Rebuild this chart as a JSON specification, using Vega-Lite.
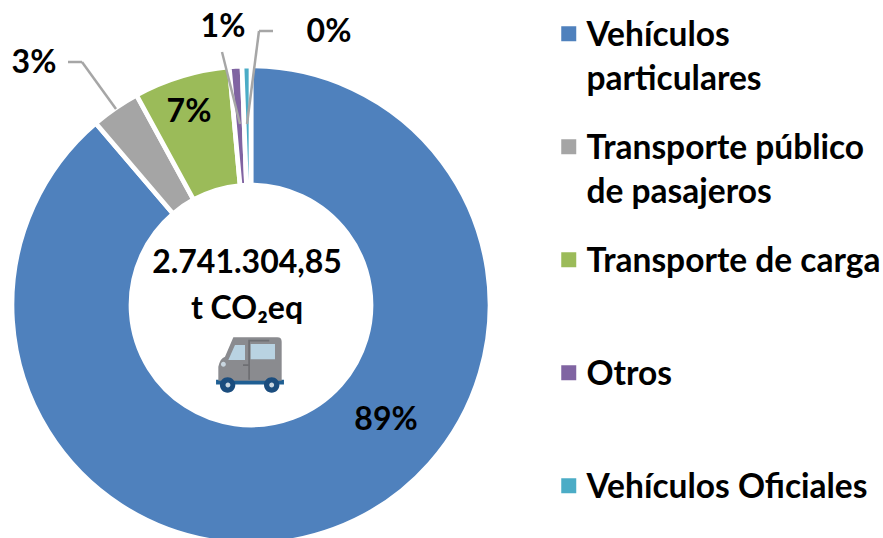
{
"$schema":"https://vega.github.io/schema/vega-lite/v6.json",
"width":883,"height":538,"padding":0,"autosize":{"type":"none"},
"background":"white",
"config":{"view":{"stroke":null},"axis":{"disable":true},"text":{"font":"Lato","fontWeight":"bold","fontSize":32,"color":"#000000"}},
"data":{"values":[
{"fuente":"Vehículos particulares","orden":1,"porcentaje":88.75},
{"fuente":"Transporte público de pasajeros","orden":2,"porcentaje":3.3},
{"fuente":"Transporte de carga","orden":3,"porcentaje":6.5},
{"fuente":"Otros","orden":4,"porcentaje":0.85},
{"fuente":"Vehículos Oficiales","orden":5,"porcentaje":0.6}
]},
"layer":[
{"mark":{"type":"arc","outerRadius":239,"innerRadius":120,"stroke":"white","strokeWidth":4.7},
"encoding":{
"x":{"datum":251,"scale":{"domain":[0,883]}},
"y":{"datum":305,"scale":{"domain":[0,538],"reverse":true}},
"theta":{"field":"porcentaje","type":"quantitative","stack":true},
"order":{"field":"orden","type":"ordinal"},
"color":{"field":"fuente","type":"nominal","sort":{"field":"orden"},
"scale":{"domain":["Vehículos particulares","Transporte público de pasajeros","Transporte de carga","Otros","Vehículos Oficiales"],"range":["#4f81bd","#a5a5a5","#9bbb59","#8064a2","#4bacc6"]},
"legend":{"orient":"none","legendX":552,"legendY":17,"title":null,"symbolType":"square","symbolSize":225,"symbolStrokeWidth":0,"symbolOpacity":1,
"labelFont":"Lato","labelFontWeight":"bold","labelFontSize":33.5,"labelColor":"#000000","labelLimit":400,"labelBaseline":"alphabetic","labelOffset":1,
"gridAlign":"all","rowPadding":33,
"labelExpr":"datum.label=='Vehículos particulares'?['Vehículos','particulares']:datum.label=='Transporte público de pasajeros'?['Transporte público','de pasajeros']:datum.label",
"encoding":{"labels":{"lineHeight":{"value":44},"dy":{"value":12}}}}}
}},
{"mark":{"type":"rule","color":"#a6a6a6","strokeWidth":2.5},"encoding":{"x":{"datum":68,"scale":{"domain":[0,883]}},"x2":{"datum":82},"y":{"datum":62,"scale":{"domain":[0,538],"reverse":true}},"y2":{"datum":62}},"data":{"values":[{}]}},
{"mark":{"type":"rule","color":"#a6a6a6","strokeWidth":2.5},"encoding":{"x":{"datum":82,"scale":{"domain":[0,883]}},"x2":{"datum":116},"y":{"datum":62,"scale":{"domain":[0,538],"reverse":true}},"y2":{"datum":109}},"data":{"values":[{}]}},
{"mark":{"type":"rule","color":"#a6a6a6","strokeWidth":2.5},"encoding":{"x":{"datum":222,"scale":{"domain":[0,883]}},"x2":{"datum":240},"y":{"datum":52,"scale":{"domain":[0,538],"reverse":true}},"y2":{"datum":124}},"data":{"values":[{}]}},
{"mark":{"type":"rule","color":"#a6a6a6","strokeWidth":2.5},"encoding":{"x":{"datum":273,"scale":{"domain":[0,883]}},"x2":{"datum":259},"y":{"datum":31,"scale":{"domain":[0,538],"reverse":true}},"y2":{"datum":31}},"data":{"values":[{}]}},
{"mark":{"type":"rule","color":"#a6a6a6","strokeWidth":2.5},"encoding":{"x":{"datum":259,"scale":{"domain":[0,883]}},"x2":{"datum":247},"y":{"datum":31,"scale":{"domain":[0,538],"reverse":true}},"y2":{"datum":124}},"data":{"values":[{}]}},
{"data":{"values":[{"etiqueta":"89%"}]},"mark":{"type":"text"},"encoding":{"text":{"field":"etiqueta"},"x":{"datum":386,"scale":{"domain":[0,883]}},"y":{"datum":420,"scale":{"domain":[0,538],"reverse":true}}}},
{"data":{"values":[{"etiqueta":"7%"}]},"mark":{"type":"text"},"encoding":{"text":{"field":"etiqueta"},"x":{"datum":189,"scale":{"domain":[0,883]}},"y":{"datum":112,"scale":{"domain":[0,538],"reverse":true}}}},
{"data":{"values":[{"etiqueta":"3%"}]},"mark":{"type":"text"},"encoding":{"text":{"field":"etiqueta"},"x":{"datum":34,"scale":{"domain":[0,883]}},"y":{"datum":63,"scale":{"domain":[0,538],"reverse":true}}}},
{"data":{"values":[{"etiqueta":"1%"}]},"mark":{"type":"text"},"encoding":{"text":{"field":"etiqueta"},"x":{"datum":223,"scale":{"domain":[0,883]}},"y":{"datum":27,"scale":{"domain":[0,538],"reverse":true}}}},
{"data":{"values":[{"etiqueta":"0%"}]},"mark":{"type":"text"},"encoding":{"text":{"field":"etiqueta"},"x":{"datum":329,"scale":{"domain":[0,883]}},"y":{"datum":32,"scale":{"domain":[0,538],"reverse":true}}}},
{"data":{"values":[{"etiqueta":"2.741.304,85"}]},"mark":{"type":"text"},"encoding":{"text":{"field":"etiqueta"},"x":{"datum":247,"scale":{"domain":[0,883]}},"y":{"datum":263,"scale":{"domain":[0,538],"reverse":true}}}},
{"data":{"values":[{"etiqueta":"t CO₂eq"}]},"mark":{"type":"text"},"encoding":{"text":{"field":"etiqueta"},"x":{"datum":247,"scale":{"domain":[0,883]}},"y":{"datum":309,"scale":{"domain":[0,538],"reverse":true}}}},
{"data":{"values":[{}]},"mark":{"type":"point","filled":true,"opacity":1,"size":4900,"color":"#1f5f93","shape":"M-.97 .42L.97 .42L.97 .56L-.97 .56Z"},"encoding":{"x":{"datum":250,"scale":{"domain":[0,883]}},"y":{"datum":365,"scale":{"domain":[0,538],"reverse":true}}}},
{"data":{"values":[{}]},"mark":{"type":"point","filled":true,"opacity":1,"size":4900,"color":"#8a8b8f","shape":"M-.476 -.79L.78 -.79Q.905 -.79 .905 -.667L.905 .448L-.905 .448L-.905 .048Q-.85 -.2 -.714 -.238Z"},"encoding":{"x":{"datum":250,"scale":{"domain":[0,883]}},"y":{"datum":365,"scale":{"domain":[0,538],"reverse":true}}}},
{"data":{"values":[{}]},"mark":{"type":"point","filled":true,"opacity":1,"size":4900,"color":"#b9d3e2","shape":"M-.429 -.571L-.143 -.571L-.143 -.143L-.619 -.143ZM.019 -.6L.714 -.6L.714 -.162L.019 -.162Z"},"encoding":{"x":{"datum":250,"scale":{"domain":[0,883]}},"y":{"datum":365,"scale":{"domain":[0,538],"reverse":true}}}},
{"data":{"values":[{}]},"mark":{"type":"point","filled":true,"opacity":1,"size":4900,"color":"#6e6f73","shape":"M-.05 -.72L0 -.72L0 .42L-.05 .42ZM-.04 -.72L.55 -.72L.55 -.67L-.04 -.67ZM-.2 -.02L-.05 -.02L-.05 .03L-.2 .03Z"},"encoding":{"x":{"datum":250,"scale":{"domain":[0,883]}},"y":{"datum":365,"scale":{"domain":[0,538],"reverse":true}}}},
{"data":{"values":[{}]},"mark":{"type":"point","filled":true,"opacity":1,"size":4900,"color":"#1b4d7e","shape":"M-.86 .57A.22 .22 0 1 1 -.42 .57A.22 .22 0 1 1 -.86 .57ZM.4 .57A.22 .22 0 1 1 .84 .57A.22 .22 0 1 1 .4 .57Z"},"encoding":{"x":{"datum":250,"scale":{"domain":[0,883]}},"y":{"datum":365,"scale":{"domain":[0,538],"reverse":true}}}},
{"data":{"values":[{}]},"mark":{"type":"point","filled":true,"opacity":1,"size":4900,"color":"#c9d6e0","shape":"M-.7 .57A.07 .07 0 1 1 -.56 .57A.07 .07 0 1 1 -.7 .57ZM.55 .57A.07 .07 0 1 1 .69 .57A.07 .07 0 1 1 .55 .57ZM-.83 -.02A.07 .07 0 1 1 -.69 -.02A.07 .07 0 1 1 -.83 -.02Z"},"encoding":{"x":{"datum":250,"scale":{"domain":[0,883]}},"y":{"datum":365,"scale":{"domain":[0,538],"reverse":true}}}}
]
}
